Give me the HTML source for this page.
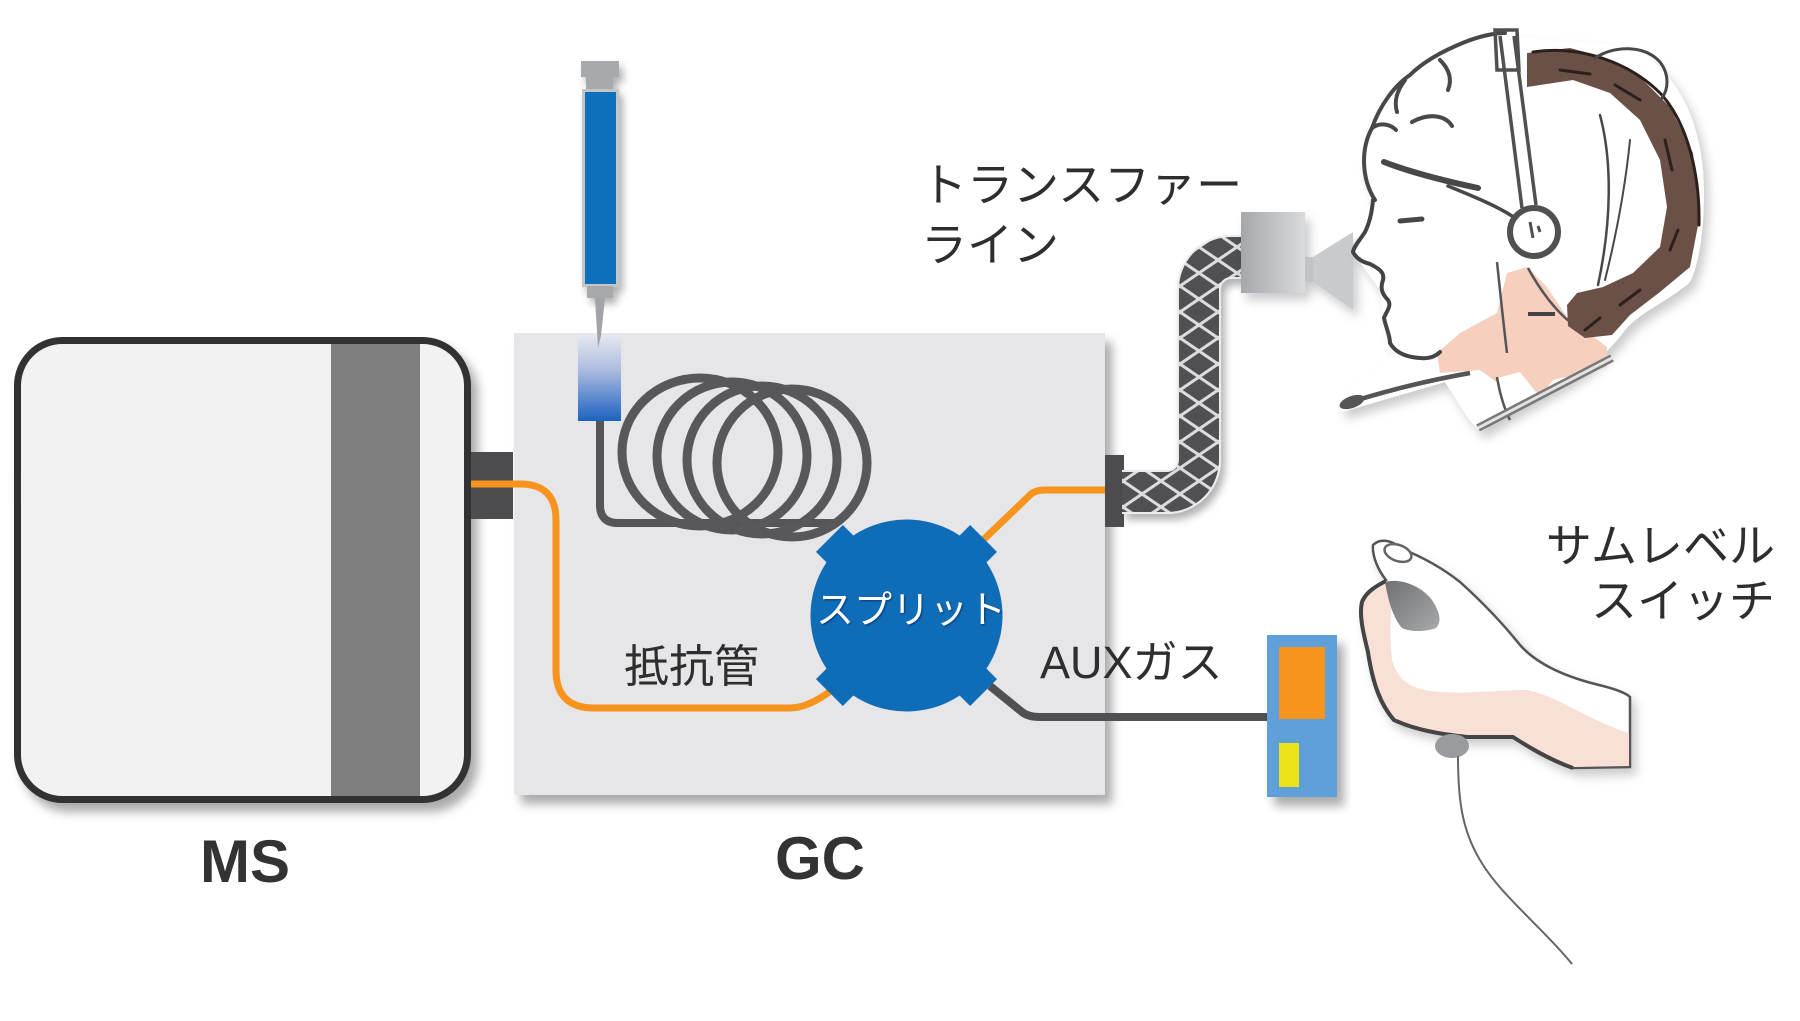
<!DOCTYPE html>
<html><head><meta charset="utf-8">
<style>
html,body{margin:0;padding:0;background:#fff;}
svg{display:block;}
text{font-family:"Liberation Sans","Noto Sans CJK JP",sans-serif;}
</style></head>
<body>
<svg width="1800" height="1021" viewBox="0 0 1800 1021" xmlns="http://www.w3.org/2000/svg">
<defs>
  <filter id="sh" x="-10%" y="-10%" width="130%" height="130%">
    <feDropShadow dx="7" dy="9" stdDeviation="5" flood-color="#000" flood-opacity="0.33"/>
  </filter>
  <filter id="shs" x="-30%" y="-30%" width="170%" height="170%">
    <feDropShadow dx="4" dy="6" stdDeviation="4" flood-color="#000" flood-opacity="0.3"/>
  </filter>
  <filter id="shl" x="-20%" y="-20%" width="150%" height="150%">
    <feDropShadow dx="5" dy="7" stdDeviation="5" flood-color="#000" flood-opacity="0.2"/>
  </filter>
  <filter id="ts" x="-10%" y="-20%" width="120%" height="150%">
    <feDropShadow dx="1" dy="1" stdDeviation="1" flood-color="#003" flood-opacity="0.5"/>
  </filter>
  <linearGradient id="inj" x1="0" y1="0" x2="0" y2="1">
    <stop offset="0" stop-color="#e6e8f0"/>
    <stop offset="0.4" stop-color="#aebddf"/>
    <stop offset="0.85" stop-color="#3f78c8"/>
    <stop offset="1" stop-color="#1d63bd"/>
  </linearGradient>
  <linearGradient id="gbox" x1="0" y1="0" x2="1" y2="0">
    <stop offset="0" stop-color="#a6a7aa"/>
    <stop offset="1" stop-color="#dadbdd"/>
  </linearGradient>
  <linearGradient id="btn" x1="0" y1="0" x2="1" y2="1">
    <stop offset="0" stop-color="#6f7073"/>
    <stop offset="1" stop-color="#a8a9ac"/>
  </linearGradient>
  <pattern id="hatch" patternUnits="userSpaceOnUse" x="1180" y="0" width="38" height="26">
    <rect width="38" height="26" fill="#505052"/>
    <path d="M0,0 L38,26 M38,0 L0,26" stroke="#dcdcde" stroke-width="3"/>
  </pattern>
  <mask id="hm">
    <path d="M1122,492 H1167 A32,32 0 0 0 1199,460 V289 A32,32 0 0 1 1231,257 H1244" stroke="#fff" stroke-width="40" fill="none"/>
  </mask>
</defs>

<!-- MS box -->
<g filter="url(#sh)">
  <rect x="17.5" y="340.5" width="450" height="459" rx="45" ry="45" fill="#f2f2f2" stroke="#333" stroke-width="7"/>
</g>
<rect x="331" y="344" width="89" height="452" fill="#7f7f7f"/>

<!-- MS-GC connector -->
<rect x="471" y="452" width="42" height="67" fill="#4d4d4f"/>

<!-- GC box -->
<rect x="514" y="333" width="591" height="462" fill="#e6e6e8" filter="url(#sh)"/>

<!-- syringe -->
<g filter="url(#shs)">
  <rect x="581" y="61" width="38" height="16" fill="#a7a9ac"/>
  <rect x="586" y="77" width="27" height="13" fill="#a7a9ac"/>
  <rect x="582" y="89" width="37" height="198" fill="#c4c5c8"/>
  <rect x="585" y="92" width="31" height="192" fill="#0e6fb8"/>
  <rect x="587" y="286" width="26" height="12" fill="#a7a9ac"/>
</g>

<!-- injector -->
<rect x="578" y="335" width="43" height="86" fill="url(#inj)"/>
<polygon points="595,298 605,298 601,336 598,348" fill="#a3a4a7"/>

<!-- gray column line from injector -->
<path d="M600,421 V505 Q600,523 618,523 H835" stroke="#555557" stroke-width="8" fill="none"/>

<!-- coil -->
<g fill="none" stroke="#58585a" stroke-width="9">
  <ellipse cx="700" cy="452" rx="78" ry="74"/>
  <ellipse cx="732" cy="456" rx="75" ry="74"/>
  <ellipse cx="762" cy="460" rx="75" ry="74"/>
  <ellipse cx="792" cy="463" rx="75" ry="74"/>
</g>

<!-- orange line MS -> split -->
<path d="M471,484 H520 Q556,484 556,520 V670 Q556,708 594,708 H790 Q808,708 832,690" stroke="#f7941d" stroke-width="7" fill="none"/>
<!-- orange line split -> transfer -->
<path d="M980,543 L1030,495 Q1035,490 1045,490 H1108" stroke="#f7941d" stroke-width="7" fill="none"/>
<!-- gray line split -> AUX -->
<path d="M990,686 L1022,712 Q1028,717 1040,717 H1268" stroke="#505052" stroke-width="8" fill="none"/>

<!-- split -->
<g transform="translate(906.5,615.5)" fill="#0f6db8">
  <circle r="96"/>
  <rect x="-19" y="-109" width="38" height="26" transform="rotate(-45)"/>
  <rect x="-19" y="-109" width="38" height="26" transform="rotate(45)"/>
  <rect x="-19" y="-109" width="38" height="26" transform="rotate(135)"/>
  <rect x="-19" y="-109" width="38" height="26" transform="rotate(225)"/>
</g>
<text x="911" y="623" font-size="38" fill="#fff" text-anchor="middle" filter="url(#ts)">スプリット</text>

<!-- transfer connector block -->
<rect x="1105" y="455" width="19" height="72" fill="#4d4d4f"/>

<!-- hose -->
<path d="M1122,492 H1167 A32,32 0 0 0 1199,460 V289 A32,32 0 0 1 1231,257 H1244" stroke="#ececed" stroke-width="44" fill="none" filter="url(#shs)"/>
<rect x="1115" y="230" width="135" height="300" fill="url(#hatch)" mask="url(#hm)"/>

<!-- mouthpiece -->
<g filter="url(#shl)">
  <rect x="1241" y="212" width="64" height="81" fill="url(#gbox)"/>
  <rect x="1305" y="257" width="9" height="25" fill="#c2c3c5"/>
  <polygon points="1313,257 1353,232 1353,310 1313,282" fill="#c9cacc"/>
</g>

<!-- head -->
<g>
  <path filter="url(#shl)" fill="#fff" d="M1373,200 C1362,180 1360,150 1370,130 C1380,100 1400,77 1430,58 C1460,43 1480,35 1500,33 L1560,42 C1590,40 1620,44 1645,55 C1680,80 1698,120 1703,170 C1706,220 1700,262 1690,282 C1670,300 1640,312 1625,330 C1610,350 1590,370 1560,386 L1500,420 L1480,432 L1468,418 L1445,382 L1342,412 L1338,398 L1392,355 L1384,318 L1380,290 L1362,265 L1353,252 L1368,226 Z"/>
  <!-- neck skin -->
  <path fill="#f6cfbe" d="M1437,353 L1460,333 L1497,313 L1507,273 L1527,267 L1547,287 L1567,317 L1607,347 L1607,367 L1553,380 L1540,397 L1507,390 L1480,370 L1440,373 Z"/>
  <path fill="#fff" d="M1497,378 L1520,372 L1540,397 L1512,412 Z"/>
  <!-- brown band -->
  <path fill="#6b5047" d="M1527,53 L1570,48 L1603,57 L1640,77 L1670,107 L1693,153 L1699,220 L1690,267 L1660,292 L1630,315 L1612,335 L1585,338 L1568,326 L1567,305 L1577,293 L1603,287 L1633,273 L1660,247 L1667,207 L1660,160 L1640,120 L1610,93 L1573,80 L1527,87 Z"/>
  <g fill="none" stroke="#2c201b" stroke-width="3" stroke-linecap="round">
    <path d="M1533,52 C1580,45 1630,62 1662,95 C1688,125 1700,175 1699,225"/>
    <path d="M1560,70 L1590,74 M1615,85 L1640,100 M1665,140 L1672,170 M1678,230 L1670,250 M1640,290 L1620,305 M1600,318 L1585,330"/>
  </g>
  <!-- hair outlines -->
  <g fill="none" stroke="#48484a" stroke-width="4" stroke-linecap="round" stroke-linejoin="round">
    <path d="M1375,200 C1362,180 1360,150 1372,128 C1380,105 1395,85 1410,75 C1425,60 1445,50 1465,42 C1480,36 1495,33 1505,33"/>
    <path d="M1372,128 C1380,122 1390,124 1396,130"/>
    <path d="M1405,80 C1396,92 1394,102 1397,112"/>
    <path d="M1412,122 C1430,112 1446,116 1452,126"/>
    <path d="M1440,60 C1450,70 1452,80 1448,90"/>
    <path d="M1448,186 C1470,195 1495,205 1512,216" stroke-width="3.5"/>
    <path d="M1595,58 C1615,45 1645,45 1660,62 C1670,75 1668,90 1662,98" stroke-width="3"/>
    <path d="M1600,115 C1612,160 1612,220 1598,285" stroke-width="2.5"/>
    <path d="M1630,140 C1625,190 1615,240 1605,280" stroke-width="2"/>
    <path d="M1384,162 C1410,172 1440,180 1478,188" stroke-width="6"/>
    <path d="M1400,221 L1422,219" stroke-width="5"/>
  </g>
  <!-- headphone band -->
  <g fill="none" stroke="#505052" stroke-width="3.5">
    <path d="M1500,36 C1508,100 1516,160 1522,208"/>
    <path d="M1514,36 C1522,100 1530,160 1536,205"/>
    <path d="M1495,30 L1517,30 L1519,70 L1497,70 Z"/>
  </g>
  <circle cx="1534" cy="232" r="24" fill="#fff" stroke="#505052" stroke-width="6"/>
  <path d="M1530,222 L1533,238 M1538,226 L1540,232" stroke="#505052" stroke-width="3" fill="none"/>
  <!-- face profile -->
  <path fill="none" stroke="#444" stroke-width="4" stroke-linecap="round" stroke-linejoin="round" d="M1373,200 C1372,212 1370,222 1365,232 C1360,240 1354,246 1353,252 C1356,258 1362,262 1370,264 C1378,268 1385,272 1383,280 C1380,288 1382,294 1388,300 C1392,306 1386,312 1384,318 C1386,328 1390,335 1390,343 C1395,352 1405,357 1420,358 C1430,359 1436,356 1440,352"/>
  <!-- neck lines -->
  <g fill="none" stroke="#555" stroke-width="2.5">
    <path d="M1497,262 C1500,290 1503,320 1507,353"/>
    <path d="M1528,268 C1540,290 1555,310 1570,322"/>
    <path d="M1497,377 C1500,395 1505,410 1510,420"/>
  </g>
  <path d="M1528,314 L1555,314" stroke="#444" stroke-width="4"/>
  <!-- mic boom -->
  <path d="M1345,404 C1375,394 1420,382 1470,373" stroke="#555" stroke-width="4.5" fill="none"/>
  <ellipse cx="1352" cy="402" rx="13" ry="6" transform="rotate(-20 1352 402)" fill="#555"/>
  <!-- collar -->
  <path d="M1478,428 L1612,358" stroke="#777" stroke-width="8" fill="none"/>
  <path d="M1478,428 L1612,358" stroke="#e2e2e2" stroke-width="3" fill="none"/>
</g>

<!-- AUX box -->
<g filter="url(#sh)">
  <rect x="1267" y="635" width="70" height="162" fill="#5e9fda"/>
</g>
<rect x="1279" y="647" width="46" height="72" fill="#f7941d"/>
<rect x="1279" y="743" width="20" height="44" fill="#ece41a"/>

<!-- hand -->
<g>
  <path filter="url(#shl)" fill="#fff" stroke="#555" stroke-width="2.5" d="M1373,545 C1380,538 1392,540 1400,548 C1420,556 1440,566 1460,582 C1480,600 1500,620 1520,645 C1535,662 1560,675 1595,684 C1612,688 1625,692 1630,697 L1630,767 L1573,768 C1550,760 1530,748 1513,737 L1467,737 C1440,734 1415,730 1393,720 C1380,705 1372,685 1367,650 C1362,630 1358,612 1362,600 C1368,590 1378,585 1386,580 C1378,570 1372,556 1373,545 Z"/>
  <path fill="#f9e0d6" d="M1363,600 C1368,590 1378,585 1386,582 L1392,600 C1390,620 1390,640 1392,660 C1398,680 1410,690 1440,692 C1470,694 1500,690 1527,690 C1550,695 1565,705 1580,712 C1600,722 1618,730 1629,733 L1629,766 L1573,767 C1550,759 1530,747 1513,736 L1467,736 C1440,733 1415,729 1394,719 C1381,704 1373,684 1368,650 C1363,630 1359,612 1363,600 Z"/>
  <path fill="none" stroke="#444" stroke-width="4" d="M1386,581 C1376,586 1366,592 1362,602 C1359,615 1363,632 1368,652 C1373,685 1381,705 1394,720 C1415,730 1440,734 1467,737 L1513,737 C1530,748 1550,760 1573,768"/>
  <ellipse cx="1398" cy="553" rx="14" ry="8" transform="rotate(20 1398 553)" fill="#fff" stroke="#666" stroke-width="2.5"/>
  <path fill="url(#btn)" d="M1385,582 C1400,578 1420,585 1432,600 C1440,612 1442,622 1436,628 C1425,632 1410,632 1402,628 C1393,618 1388,600 1385,582 Z"/>
  <ellipse cx="1452" cy="746" rx="17" ry="12" fill="#9a9b9e"/>
  <path d="M1458,756 C1458,800 1462,830 1480,860 C1500,895 1545,930 1572,964" stroke="#666" stroke-width="2" fill="none"/>
</g>

<!-- labels -->
<text x="921" y="201" font-size="46" fill="#2e2e2e">トランスファー</text>
<text x="921" y="261" font-size="46" fill="#2e2e2e">ライン</text>
<text x="1775" y="562" font-size="46" fill="#2e2e2e" text-anchor="end">サムレベル</text>
<text x="1775" y="617" font-size="46" fill="#2e2e2e" text-anchor="end">スイッチ</text>
<text x="1040" y="678" font-size="45" fill="#2e2e2e">AUXガス</text>
<text x="624" y="682" font-size="45" fill="#2e2e2e">抵抗管</text>
<text x="245" y="882" font-size="60" font-weight="bold" fill="#333" text-anchor="middle">MS</text>
<text x="820" y="879" font-size="60" font-weight="bold" fill="#333" text-anchor="middle">GC</text>
</svg>
</body></html>
